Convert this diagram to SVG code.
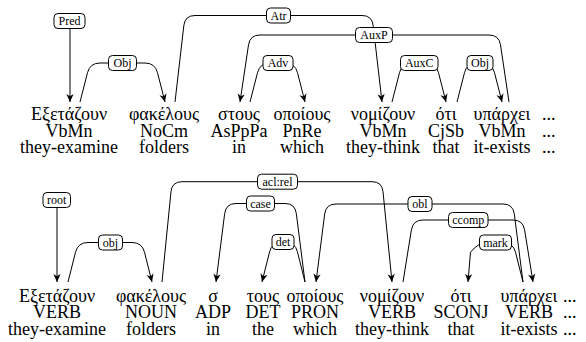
<svg xmlns="http://www.w3.org/2000/svg" width="586" height="342" viewBox="0 0 586 342">
<style>
.e{fill:none;stroke:#000;stroke-width:1;marker-end:url(#ah)}
.lb rect{fill:#fff;stroke:#000;stroke-width:1}
</style>
<defs>
<marker id="ah" viewBox="-9 -5 10 10" refX="0" refY="0" markerWidth="10" markerHeight="10" markerUnits="userSpaceOnUse" orient="auto">
<path d="M0,0 L-8,-3.6 L-5.8,0 L-8,3.6 Z" fill="#000"/>
</marker>
</defs>
<rect width="586" height="342" fill="#fff"/>

<g id="connectors">
<path class="e" d="M70,28.5 L70,102"/>
<path class="e" d="M80,102 L87.5,72.7 Q90,63 100,63 L145,63 Q155,63 157.5,72.7 L165,102"/>
<path class="e" d="M175,102 L183.85,25.4 Q185,15.5 195,15.5 L362,15.5 Q372,15.5 373.15,25.4 L382,102"/>
<path class="e" d="M509,102 L500.5,44.9 Q499,35 489,35 L260,35 Q250,35 248.5,44.9 L240,102"/>
<path class="e" d="M250,102 L257.5,72.7 Q260,63 270,63 L285,63 Q295,63 297.5,72.7 L305,102"/>
<path class="e" d="M392,102 L399.5,72.7 Q402,63 412,63 L426,63 Q436,63 438.5,72.7 L446,102"/>
<path class="e" d="M457,102 L464.5,72.7 Q467,63 477,63 L482,63 Q492,63 494.5,72.7 L502,102"/>
<path class="e" d="M57,207.5 L57,282"/>
<path class="e" d="M68,282 L75.5,252.2 Q78,242.5 88,242.5 L132,242.5 Q142,242.5 144.5,252.2 L152,282"/>
<path class="e" d="M162,282 L171,191.6 Q172,181.7 182,181.7 L372,181.7 Q382,181.7 383,191.6 L392,282"/>
<path class="e" d="M305,282 L296.3,213.4 Q295,203.5 285,203.5 L236,203.5 Q226,203.5 224.7,213.4 L216,282"/>
<path class="e" d="M305,282 L297.4,251.7 Q295,242 285,242 L282,242 Q272,242 269.6,251.7 L262,282"/>
<path class="e" d="M523,282 L514.3,213.9 Q513,204 503,204 L336,204 Q326,204 324.7,213.9 L316,282"/>
<path class="e" d="M403,282 L411.4,229.9 Q413,220 423,220 L513,220 Q523,220 524.6,229.9 L533,282"/>
<path class="e" d="M523,282 L515.5,252.2 Q513,242.5 503,242.5 L488,242.5 Q478,242.5 470.5,252.2 L468,282"/>
</g>

<g id="edge-labels" class="lb" font-family="'Liberation Serif', 'DejaVu Serif', serif" font-size="12" text-anchor="middle" fill="#000">
<g id="lbl-pred"><rect x="54" y="13.5" width="31" height="15" rx="4"/><text x="69.5" y="25">Pred</text></g>
<g id="lbl-obj1"><rect x="108.5" y="55.5" width="28" height="15" rx="4"/><text x="122.5" y="67">Obj</text></g>
<g id="lbl-atr"><rect x="266.5" y="8" width="24" height="15" rx="4"/><text x="278.5" y="19.5">Atr</text></g>
<g id="lbl-auxp"><rect x="355.5" y="27.5" width="37" height="15" rx="4"/><text x="374" y="39">AuxP</text></g>
<g id="lbl-adv"><rect x="263" y="55.5" width="30" height="15" rx="4"/><text x="278" y="67">Adv</text></g>
<g id="lbl-auxc"><rect x="400.5" y="55.5" width="37.5" height="15" rx="4"/><text x="419.25" y="67">AuxC</text></g>
<g id="lbl-obj2"><rect x="467" y="55.5" width="26" height="15" rx="4"/><text x="480" y="67">Obj</text></g>
<g id="lbl-root"><rect x="43" y="192.5" width="27.5" height="15" rx="4"/><text x="56.75" y="204">root</text></g>
<g id="lbl-obj"><rect x="98.5" y="235" width="24" height="15" rx="4"/><text x="110.5" y="246.5">obj</text></g>
<g id="lbl-aclrel"><rect x="257.5" y="174.2" width="40" height="15" rx="4"/><text x="277.5" y="185.7">acl:rel</text></g>
<g id="lbl-case"><rect x="246.5" y="196" width="28" height="15" rx="4"/><text x="260.5" y="207.5">case</text></g>
<g id="lbl-det"><rect x="272" y="234.5" width="22" height="15" rx="4"/><text x="283" y="246">det</text></g>
<g id="lbl-obl"><rect x="408" y="196.5" width="24" height="15" rx="4"/><text x="420" y="208">obl</text></g>
<g id="lbl-ccomp"><rect x="448.5" y="212.5" width="39.5" height="15" rx="4"/><text x="468.25" y="224">ccomp</text></g>
<g id="lbl-mark"><rect x="479.5" y="235" width="32" height="15" rx="4"/><text x="495.5" y="246.5">mark</text></g>
</g>

<g id="words" font-family="'Liberation Serif', 'DejaVu Serif', serif" font-size="18" text-anchor="middle" fill="#000">
<g id="t1"><text x="69" y="120">Εξετάζουν</text><text x="69" y="136.5">VbMn</text><text x="69" y="153">they-examine</text></g>
<g id="t2"><text x="164" y="120">φακέλους</text><text x="164" y="136.5">NoCm</text><text x="164" y="153">folders</text></g>
<g id="t3"><text x="239" y="120">στους</text><text x="239" y="136.5">AsPpPa</text><text x="239" y="153">in</text></g>
<g id="t4"><text x="302" y="120">οποίους</text><text x="302" y="136.5">PnRe</text><text x="302" y="153">which</text></g>
<g id="t5"><text x="383" y="120">νομίζουν</text><text x="383" y="136.5">VbMn</text><text x="383" y="153">they-think</text></g>
<g id="t6"><text x="446" y="120">ότι</text><text x="446" y="136.5">CjSb</text><text x="446" y="153">that</text></g>
<g id="t7"><text x="502" y="120">υπάρχει</text><text x="502" y="136.5">VbMn</text><text x="502" y="153">it-exists</text></g>
<g id="t8" text-anchor="start"><text x="542" y="120">...</text><text x="542" y="136.5">...</text><text x="542" y="153">...</text></g>

<g id="b1"><text x="57" y="301.5">Εξετάζουν</text><text x="57" y="318">VERB</text><text x="57" y="334.5">they-examine</text></g>
<g id="b2"><text x="151" y="301.5">φακέλους</text><text x="151" y="318">NOUN</text><text x="151" y="334.5">folders</text></g>
<g id="b3"><text x="213" y="301.5">σ</text><text x="213" y="318">ADP</text><text x="213" y="334.5">in</text></g>
<g id="b4"><text x="263" y="301.5">τους</text><text x="263" y="318">DET</text><text x="263" y="334.5">the</text></g>
<g id="b5"><text x="315" y="301.5">οποίους</text><text x="315" y="318">PRON</text><text x="315" y="334.5">which</text></g>
<g id="b6"><text x="392" y="301.5">νομίζουν</text><text x="392" y="318">VERB</text><text x="392" y="334.5">they-think</text></g>
<g id="b7"><text x="461" y="301.5">ότι</text><text x="461" y="318">SCONJ</text><text x="461" y="334.5">that</text></g>
<g id="b8"><text x="529" y="301.5">υπάρχει</text><text x="529" y="318">VERB</text><text x="529" y="334.5">it-exists</text></g>
<g id="b9" text-anchor="start"><text x="563" y="301.5">...</text><text x="563" y="318">...</text><text x="563" y="334.5">...</text></g>
</g>
</svg>
